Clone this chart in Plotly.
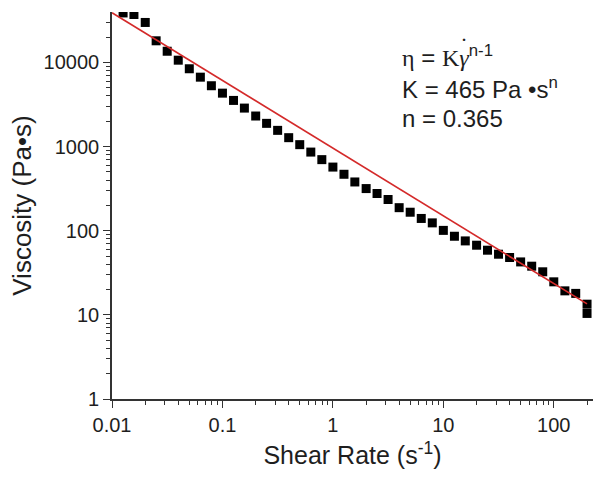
import plotly.graph_objects as go

# Measured viscosity vs shear rate
shear_rate = [0.0126, 0.0158, 0.02, 0.0251, 0.0316, 0.0398, 0.0501, 0.0631, 0.0794, 0.1,
              0.126, 0.158, 0.2, 0.251, 0.316, 0.398, 0.501, 0.631, 0.794, 1.0,
              1.26, 1.58, 2.0, 2.51, 3.16, 3.98, 5.01, 6.31, 7.94, 10.0,
              12.6, 15.8, 20.0, 25.1, 31.6, 39.8, 50.1, 63.1, 79.4, 100.0,
              126.0, 158.0, 200.0, 200.0]
viscosity = [38800, 37200, 29900, 18100, 13600, 10650, 8420, 6690, 5290, 4320,
             3540, 2870, 2310, 1890, 1560, 1277, 1055, 861, 700, 571,
             469, 380, 317, 277, 235, 188, 166, 140, 124, 101,
             86, 75.7, 67.3, 58.7, 52.6, 48.1, 42.6, 37.9, 32.5, 24.7,
             19.3, 18.0, 13.4, 10.4]

# Power-law fit line (end points)
fit_rate = [0.01, 200.0]
fit_visc = [39000, 13.5]

tick_x = [0.01, 0.1, 1, 10, 100]
tick_x_text = ["0.01", "0.1", "1", "10", "100"]
tick_y = [1, 10, 100, 1000, 10000]
tick_y_text = ["1", "10", "100", "1000", "10000"]

# minor ticks at 2..9 within each decade
minor_x = [m * d for d in (0.01, 0.1, 1, 10, 100) for m in range(2, 10)]
minor_y = [m * d for d in (1, 10, 100, 1000, 10000) for m in range(2, 10)]

FONT = "Liberation Sans, Arial, sans-serif"
SERIF = "Liberation Serif, Times New Roman, serif"
AXIS_COLOR = "#333333"
TEXT_COLOR = "#1e1e1e"

W, H = 594, 478
ML, MR, MT, MB = 112, 1, 12, 79
PW, PH = W - ML - MR, H - MT - MB


def px_to_paper(px, py):
    return (px - ML) / PW, 1 - (py - MT) / PH


fig = go.Figure()
fig.add_trace(go.Scatter(
    x=shear_rate, y=viscosity, mode="markers",
    marker=dict(symbol="square", size=9, color="black"),
    showlegend=False,
))
fig.add_trace(go.Scatter(
    x=fit_rate, y=fit_visc, mode="lines",
    line=dict(color="#d42a2a", width=1.6),
    showlegend=False,
))

axis_common = dict(
    type="log",
    showgrid=False,
    zeroline=False,
    showline=True,
    linecolor=AXIS_COLOR,
    linewidth=1.6,
    ticks="outside",
    ticklen=7,
    tickwidth=1.4,
    tickcolor=AXIS_COLOR,
    tickfont=dict(family=FONT, size=20, color=TEXT_COLOR),
    mirror=False,
)

fig.update_xaxes(
    **axis_common,
    range=[-2, 2.355],
    tickvals=tick_x, ticktext=tick_x_text,
    minor=dict(tickmode="array", tickvals=minor_x, ticks="outside", ticklen=4,
               tickwidth=1.1, tickcolor=AXIS_COLOR, showgrid=False),
    title=dict(text="Shear Rate (s<sup>-1</sup>)", font=dict(family=FONT, size=25, color=TEXT_COLOR), standoff=12),
)
fig.update_yaxes(
    **axis_common,
    range=[0, 4.6],
    tickvals=tick_y, ticktext=tick_y_text,
    minor=dict(tickmode="array", tickvals=minor_y, ticks="outside", ticklen=4,
               tickwidth=1.1, tickcolor=AXIS_COLOR, showgrid=False),
    title=dict(text="Viscosity (Pa\u2022s)", font=dict(family=FONT, size=26, color=TEXT_COLOR), standoff=4),
)

# Power-law model text block
eq_lines = [
    (f"<span style='font-family:{SERIF}'>\u03b7</span> = "
     f"<span style='font-family:{SERIF}'>K<i>\u03b3</i></span><sup>n-1</sup>", 56),
    ("K = 465 Pa \u2022s<sup>n</sup>", 88),
    ("n = 0.365", 118),
]
for text, cy in eq_lines:
    ax, ay = px_to_paper(400, cy)
    fig.add_annotation(
        x=ax, y=ay, xref="paper", yref="paper", text=text,
        showarrow=False, align="left", xanchor="left", yanchor="middle",
        font=dict(family=FONT, size=24, color=TEXT_COLOR),
    )

# dot over gamma (shear-rate symbol)
dx, dy = px_to_paper(464, 46)
fig.add_annotation(
    x=dx, y=dy, xref="paper", yref="paper", text="\u02d9",
    showarrow=False, xanchor="center", yanchor="middle",
    font=dict(family=SERIF, size=24, color=TEXT_COLOR),
)

fig.update_layout(
    width=W, height=H,
    margin=dict(l=ML, r=MR, t=MT, b=MB),
    paper_bgcolor="white", plot_bgcolor="white",
)

fig.write_html("out.html")
